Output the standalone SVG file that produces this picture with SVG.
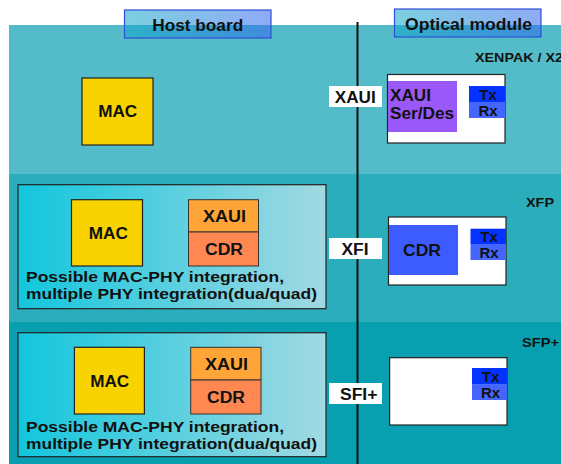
<svg xmlns="http://www.w3.org/2000/svg" width="561" height="464" viewBox="0 0 561 464">
<defs>
<linearGradient id="hostg" x1="0" y1="0" x2="1" y2="0">
<stop offset="0" stop-color="#12C6DD"/>
<stop offset="1" stop-color="#A2D9E2"/>
</linearGradient>
<linearGradient id="labg" x1="0" y1="0" x2="1" y2="0">
<stop offset="0" stop-color="#10A8C8" stop-opacity="0.55"/>
<stop offset="1" stop-color="#3366EE" stop-opacity="0.55"/>
</linearGradient>
<style>
text{font-family:"Liberation Sans",Arial,sans-serif;font-weight:bold;fill:#111}
.mac{fill:#F8D300;stroke:#222;stroke-width:1.2}
.xaui{fill:#FFA436;stroke:#333;stroke-width:1}
.cdr{fill:#FF8752;stroke:#333;stroke-width:1}
.host{fill:url(#hostg);stroke:#222;stroke-width:1.2}
.opt{fill:#fff;stroke:#222;stroke-width:1.2}
.lbl{fill:#fff}
.tx{fill:#0433FF}
.rx{fill:#4466FF}
.hdr{fill:url(#labg);stroke:#2F4FD8;stroke-width:1.2}
.t16{font-size:16px}
.trx{font-size:15px}
.band{font-size:13.5px}
.desc{font-size:15.5px}
</style>
</defs>
<rect x="0" y="0" width="561" height="464" fill="#fff"/>
<rect x="9" y="25" width="552" height="149" fill="#54BBC8"/>
<rect x="9" y="174" width="552" height="148" fill="#2BADBB"/>
<rect x="9" y="322" width="552" height="142" fill="#08A0B0"/>

<g id="hdr-host"><rect class="hdr" x="124.5" y="10" width="146.5" height="28"/><text x="197.7" y="30.5" font-size="17" text-anchor="middle" textLength="91" lengthAdjust="spacingAndGlyphs">Host board</text></g>
<g id="hdr-opt"><rect class="hdr" x="394.5" y="9" width="146.5" height="28"/><text x="468.5" y="30" font-size="17" text-anchor="middle" textLength="127" lengthAdjust="spacingAndGlyphs">Optical module</text></g>

<g id="connectors">
<line x1="357.5" y1="22" x2="357.5" y2="464" stroke="#111" stroke-width="2"/>
</g>

<g id="row1">
<text x="475" y="62" class="band" textLength="88" lengthAdjust="spacingAndGlyphs">XENPAK / X2</text>
<g id="mac1"><rect class="mac" x="82" y="78" width="71" height="67"/><text x="117.7" y="117" class="t16" text-anchor="middle" textLength="39" lengthAdjust="spacingAndGlyphs">MAC</text></g>
<g id="xaui-if"><rect class="lbl" x="329" y="86" width="53" height="21"/><text x="355.2" y="103" class="t16" text-anchor="middle" textLength="41" lengthAdjust="spacingAndGlyphs">XAUI</text></g>
<g id="opt1">
<rect class="opt" x="387.5" y="74.5" width="117.5" height="68.5"/>
<rect x="388" y="81" width="69" height="51" fill="#9B58F8"/>
<text x="390" y="101" font-size="17" textLength="41" lengthAdjust="spacingAndGlyphs">XAUI</text>
<text x="390" y="119" font-size="17" textLength="64" lengthAdjust="spacingAndGlyphs">Ser/Des</text>
<rect class="tx" x="469" y="86" width="36" height="16"/><text x="488" y="100" class="trx" text-anchor="middle">Tx</text>
<rect class="rx" x="469" y="102" width="36" height="16"/><text x="488" y="116" class="trx" text-anchor="middle">Rx</text>
</g>
</g>

<g id="row2">
<text x="526" y="207" class="band" textLength="28" lengthAdjust="spacingAndGlyphs">XFP</text>
<g id="host2">
<rect class="host" x="18" y="184.7" width="308" height="124"/>
<rect class="mac" x="71.5" y="199.7" width="71" height="66.3"/><text x="108.3" y="239" class="t16" text-anchor="middle" textLength="39" lengthAdjust="spacingAndGlyphs">MAC</text>
<rect class="xaui" x="188.5" y="199.7" width="70" height="32.3"/><text x="224.5" y="222" class="t16" text-anchor="middle" textLength="43" lengthAdjust="spacingAndGlyphs">XAUI</text>
<rect class="cdr" x="188.5" y="232" width="70" height="34"/><text x="224" y="255" class="t16" text-anchor="middle" textLength="38" lengthAdjust="spacingAndGlyphs">CDR</text>
<text x="26" y="282" class="desc" textLength="258" lengthAdjust="spacingAndGlyphs">Possible MAC-PHY integration,</text>
<text x="26" y="299" class="desc" textLength="291" lengthAdjust="spacingAndGlyphs">multiple PHY integration(dua/quad)</text>
</g>
<g id="xfi-if"><rect class="lbl" x="329" y="238" width="53" height="21"/><text x="355" y="255" class="t16" text-anchor="middle" textLength="27" lengthAdjust="spacingAndGlyphs">XFI</text></g>
<g id="opt2">
<rect class="opt" x="388.5" y="217" width="117.5" height="68"/>
<rect x="389" y="225" width="69" height="50" fill="#3D5CFF"/>
<text x="422" y="256" font-size="17" text-anchor="middle" textLength="38" lengthAdjust="spacingAndGlyphs">CDR</text>
<rect class="tx" x="470.5" y="228.7" width="35.5" height="15.3"/><text x="489" y="242" class="trx" text-anchor="middle">Tx</text>
<rect class="rx" x="470.5" y="244" width="35.5" height="16"/><text x="489" y="258" class="trx" text-anchor="middle">Rx</text>
</g>
</g>

<g id="row3">
<text x="522" y="347" class="band" textLength="37" lengthAdjust="spacingAndGlyphs">SFP+</text>
<g id="host3">
<rect class="host" x="18" y="332.7" width="308" height="124"/>
<rect class="mac" x="74.4" y="347.3" width="70" height="66.7"/><text x="109.7" y="387" class="t16" text-anchor="middle" textLength="39" lengthAdjust="spacingAndGlyphs">MAC</text>
<rect class="xaui" x="190.7" y="347.3" width="70.3" height="32.7"/><text x="226.5" y="370" class="t16" text-anchor="middle" textLength="43" lengthAdjust="spacingAndGlyphs">XAUI</text>
<rect class="cdr" x="190.7" y="380" width="70.3" height="34"/><text x="226" y="403" class="t16" text-anchor="middle" textLength="38" lengthAdjust="spacingAndGlyphs">CDR</text>
<text x="26" y="432" class="desc" textLength="258" lengthAdjust="spacingAndGlyphs">Possible MAC-PHY integration,</text>
<text x="26" y="449" class="desc" textLength="291" lengthAdjust="spacingAndGlyphs">multiple PHY integration(dua/quad)</text>
</g>
<g id="sfi-if"><rect class="lbl" x="329" y="383" width="53" height="21"/><text x="358.7" y="400" class="t16" text-anchor="middle" textLength="37.5" lengthAdjust="spacingAndGlyphs">SFI+</text></g>
<g id="opt3">
<rect class="opt" x="389.6" y="357.7" width="117.4" height="67.3"/>
<rect class="tx" x="472" y="368" width="35" height="16.7"/><text x="490.5" y="382" class="trx" text-anchor="middle">Tx</text>
<rect class="rx" x="472" y="384.7" width="35" height="15.3"/><text x="490.5" y="398" class="trx" text-anchor="middle">Rx</text>
</g>
</g>
</svg>
